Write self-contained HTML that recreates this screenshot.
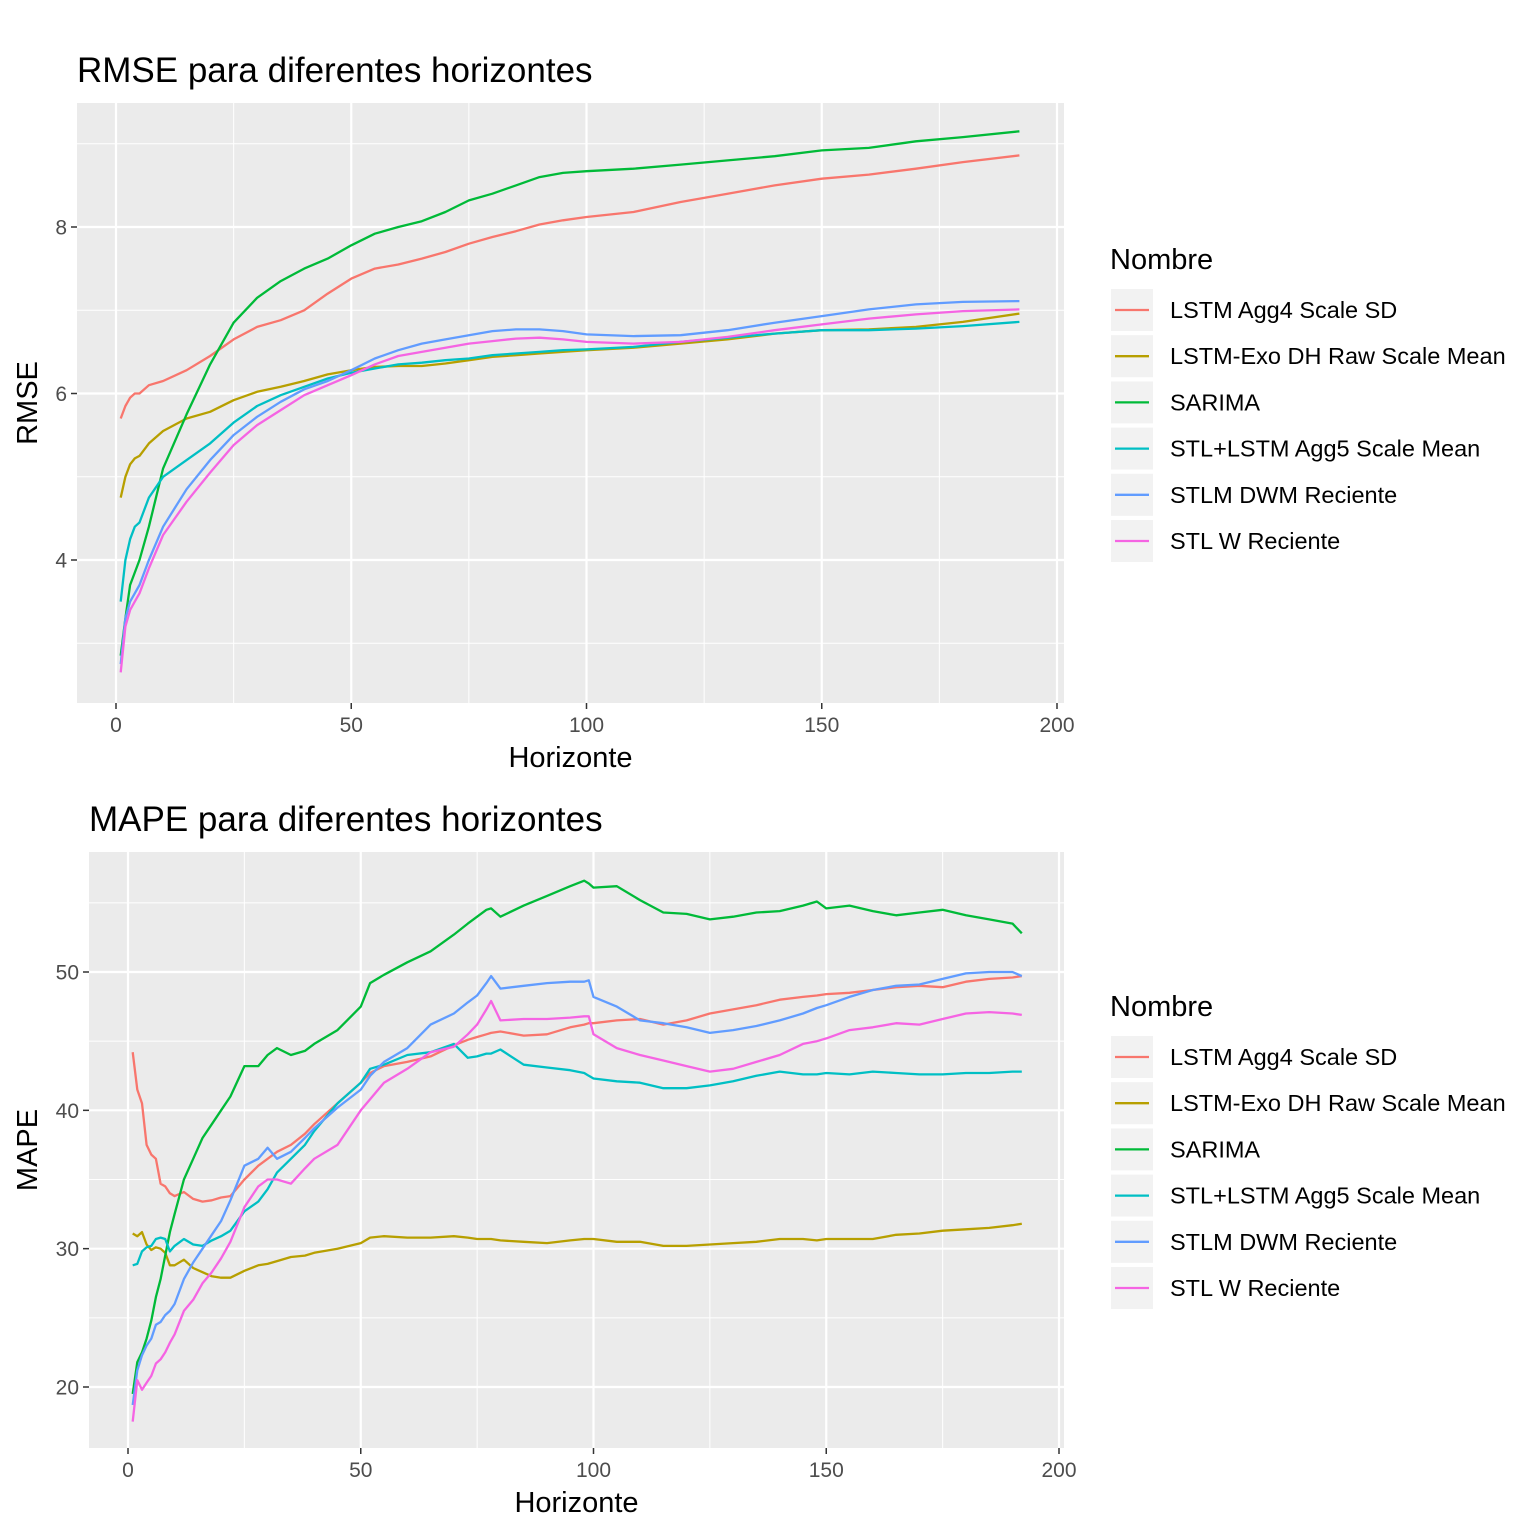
<!DOCTYPE html>
<html><head><meta charset="utf-8"><style>
html,body{margin:0;padding:0;background:#fff;}
svg{display:block;font-family:"Liberation Sans",sans-serif;}
</style></head><body>
<svg id="chart" width="1536" height="1536" viewBox="0 0 1536 1536"></svg>
<script>
const seriesNames=["LSTM Agg4 Scale SD","LSTM-Exo DH Raw Scale Mean","SARIMA","STL+LSTM Agg5 Scale Mean","STLM DWM Reciente","STL W Reciente"];
const colors=["#F8766D","#B79F00","#00BA38","#00BFC4","#619CFF","#F564E3"];
const rmseH=[1,2,3,4,5,7,10,15,20,25,30,35,40,45,50,55,60,65,70,75,80,85,90,95,100,110,120,130,140,150,160,170,180,192];
const rmseAgg4=[5.70,5.85,5.95,6.0,6.0,6.1,6.15,6.28,6.45,6.65,6.8,6.88,7.0,7.2,7.38,7.5,7.55,7.62,7.7,7.8,7.88,7.95,8.03,8.08,8.12,8.18,8.3,8.4,8.5,8.58,8.63,8.7,8.78,8.86];
const rmseExo=[4.75,5.0,5.15,5.22,5.25,5.4,5.55,5.7,5.78,5.92,6.02,6.08,6.15,6.23,6.28,6.32,6.33,6.33,6.36,6.4,6.44,6.46,6.48,6.5,6.52,6.55,6.6,6.65,6.72,6.76,6.77,6.8,6.86,6.96];
const rmseSarima=[2.85,3.3,3.7,3.85,4.0,4.4,5.1,5.75,6.35,6.85,7.15,7.35,7.5,7.62,7.78,7.92,8.0,8.07,8.18,8.32,8.4,8.5,8.6,8.65,8.67,8.7,8.75,8.8,8.85,8.92,8.95,9.03,9.08,9.15];
const rmseStlLstm=[3.5,4.0,4.25,4.4,4.45,4.75,5.0,5.2,5.4,5.65,5.85,5.98,6.08,6.18,6.25,6.3,6.35,6.37,6.4,6.42,6.46,6.48,6.5,6.52,6.53,6.56,6.62,6.67,6.72,6.76,6.76,6.78,6.81,6.86];
const rmseStlm=[2.75,3.3,3.5,3.6,3.7,4.0,4.4,4.85,5.2,5.5,5.72,5.9,6.05,6.15,6.28,6.42,6.52,6.6,6.65,6.7,6.75,6.77,6.77,6.75,6.71,6.69,6.7,6.76,6.85,6.93,7.01,7.07,7.1,7.11];
const rmseStlW=[2.65,3.2,3.4,3.5,3.6,3.9,4.3,4.7,5.05,5.38,5.62,5.8,5.98,6.1,6.22,6.35,6.45,6.5,6.55,6.6,6.63,6.66,6.67,6.65,6.62,6.6,6.62,6.68,6.76,6.83,6.9,6.95,6.99,7.01];
const mapeH=[1,2,3,4,5,6,7,8,9,10,12,14,16,18,20,22,25,28,30,32,35,38,40,45,50,52,55,60,65,70,73,75,77,78,80,85,90,95,98,99,100,105,110,115,120,125,130,135,140,145,148,150,155,160,165,170,175,180,185,190,192];
const mapeAgg4=[44.2,41.5,40.5,37.5,36.8,36.5,34.7,34.5,34,33.8,34.1,33.6,33.4,33.5,33.7,33.8,35,36,36.5,37,37.5,38.3,39,40.5,42,42.7,43.2,43.5,43.9,44.7,45.1,45.3,45.5,45.6,45.7,45.4,45.5,46,46.2,46.3,46.3,46.5,46.6,46.2,46.5,47,47.3,47.6,48,48.2,48.3,48.4,48.5,48.7,48.9,49,48.9,49.3,49.5,49.6,49.7];
const mapeExo=[31.1,30.9,31.2,30.3,29.9,30.1,30,29.7,28.8,28.8,29.2,28.6,28.3,28,27.9,27.9,28.4,28.8,28.9,29.1,29.4,29.5,29.7,30,30.4,30.8,30.9,30.8,30.8,30.9,30.8,30.7,30.7,30.7,30.6,30.5,30.4,30.6,30.7,30.7,30.7,30.5,30.5,30.2,30.2,30.3,30.4,30.5,30.7,30.7,30.6,30.7,30.7,30.7,31,31.1,31.3,31.4,31.5,31.7,31.8];
const mapeSarima=[19.5,21.8,22.5,23.5,24.8,26.5,27.8,29.5,31.2,32.5,35,36.5,38,39,40,41,43.2,43.2,44,44.5,44,44.3,44.8,45.8,47.5,49.2,49.8,50.7,51.5,52.7,53.5,54,54.5,54.6,54,54.8,55.5,56.2,56.6,56.4,56.1,56.2,55.2,54.3,54.2,53.8,54,54.3,54.4,54.8,55.1,54.6,54.8,54.4,54.1,54.3,54.5,54.1,53.8,53.5,52.8];
const mapeStlLstm=[28.8,28.9,29.8,30.1,30.2,30.7,30.8,30.7,29.8,30.2,30.7,30.3,30.2,30.6,30.9,31.3,32.7,33.4,34.3,35.5,36.5,37.5,38.5,40.5,42,43,43.3,44,44.2,44.8,43.8,43.9,44.1,44.1,44.4,43.3,43.1,42.9,42.7,42.5,42.3,42.1,42,41.6,41.6,41.8,42.1,42.5,42.8,42.6,42.6,42.7,42.6,42.8,42.7,42.6,42.6,42.7,42.7,42.8,42.8];
const mapeStlm=[18.7,21.2,22.3,23,23.5,24.5,24.7,25.2,25.5,26,27.8,29,30,31,32,33.5,36,36.5,37.3,36.5,37,38,38.7,40.2,41.5,42.5,43.5,44.5,46.2,47,47.8,48.3,49.2,49.7,48.8,49,49.2,49.3,49.3,49.4,48.2,47.5,46.5,46.3,46,45.6,45.8,46.1,46.5,47,47.4,47.6,48.2,48.7,49,49.1,49.5,49.9,50,50,49.7];
const mapeStlW=[17.5,20.5,19.8,20.3,20.8,21.7,22,22.5,23.2,23.8,25.5,26.3,27.5,28.3,29.3,30.5,33,34.5,35,35,34.7,35.8,36.5,37.5,40,40.8,42,43,44.2,44.6,45.5,46.2,47.3,47.9,46.5,46.6,46.6,46.7,46.8,46.8,45.5,44.5,44,43.6,43.2,42.8,43,43.5,44,44.8,45,45.2,45.8,46,46.3,46.2,46.6,47,47.1,47,46.9];
const xTicks=[0,50,100,150,200];
const rmseTicks=[4,6,8];
const mapeTicks=[20,30,40,50];

const svg=document.getElementById('chart');
const NS="http://www.w3.org/2000/svg";
function mk(tag,attrs,parent){const e=document.createElementNS(NS,tag);for(const k in attrs)e.setAttribute(k,attrs[k]);(parent||svg).appendChild(e);return e;}

function panel(cfg){
  const g=mk('g',{});
  
  
  const X=v=>cfg.x0px+(v-0)*(cfg.x200px-cfg.x0px)/200;
  const Y=v=>cfg.yApx+(v-cfg.yA)*(cfg.yBpx-cfg.yApx)/(cfg.yB-cfg.yA);
  const bg=mk('rect',{x:cfg.L,y:cfg.T,width:cfg.R-cfg.L,height:cfg.B-cfg.T,fill:'#EBEBEB'},g);
  
  
  for(let i=0;i<xTicks.length-1;i++){const v=(xTicks[i]+xTicks[i+1])/2;mk('line',{x1:X(v),x2:X(v),y1:cfg.T,y2:cfg.B,stroke:'#fff','stroke-width':1},g);}
  const ys=cfg.ticks;const st=ys[1]-ys[0];
  for(let v=ys[0]-st/2;v<=ys[ys.length-1]+st;v+=st){const p=Y(v);if(p>cfg.T&&p<cfg.B)mk('line',{x1:cfg.L,x2:cfg.R,y1:p,y2:p,stroke:'#fff','stroke-width':1},g);}
  xTicks.forEach(v=>{mk('line',{x1:X(v),x2:X(v),y1:cfg.T,y2:cfg.B,stroke:'#fff','stroke-width':2.2},g);
    mk('line',{x1:X(v),x2:X(v),y1:cfg.B,y2:cfg.B+6,stroke:'#333','stroke-width':1.5},g);
    const t=mk('text',{x:X(v),y:cfg.B+29,'text-anchor':'middle','font-size':21,fill:'#4D4D4D'},g);t.textContent=v;
    });
  ys.forEach(v=>{mk('line',{x1:cfg.L,x2:cfg.R,y1:Y(v),y2:Y(v),stroke:'#fff','stroke-width':2.2},g);
    mk('line',{x1:cfg.L-6,x2:cfg.L,y1:Y(v),y2:Y(v),stroke:'#333','stroke-width':1.5},g);
    const t=mk('text',{x:cfg.L-10,y:Y(v)+7.5,'text-anchor':'end','font-size':21,fill:'#4D4D4D'},g);t.textContent=v;
    });
  cfg.series.forEach((s,i)=>{
    const d=cfg.h.map((h,j)=>(j?'L':'M')+X(h).toFixed(1)+','+Y(s[j]).toFixed(1)).join('');
    const p=mk('path',{d:d,fill:'none',stroke:colors[i],'stroke-width':2.3,'stroke-linejoin':'round'},g);
    
    
  });
  const tt=mk('text',{x:cfg.L,y:cfg.T-21,'font-size':35,fill:'#000'},g);tt.textContent=cfg.title;
  
  const xt=mk('text',{x:(cfg.L+cfg.R)/2,y:cfg.B+64,'text-anchor':'middle','font-size':29,fill:'#000'},g);xt.textContent='Horizonte';
  
  const yc=(cfg.T+cfg.B)/2;
  const yt=mk('text',{x:37,y:yc,'text-anchor':'middle','font-size':29,fill:'#000',transform:`rotate(-90 37 ${yc})`},g);yt.textContent=cfg.ylab;
  
  const lg=mk('g',{},g);
  
  const lt=mk('text',{x:1110,y:cfg.legY,'font-size':29,fill:'#000'},lg);lt.textContent='Nombre';
  
  seriesNames.forEach((n,i)=>{
    const ky=cfg.legY+20+i*46.2;
    const e=mk('g',{},lg);
    
    mk('rect',{x:1111,y:ky,width:42,height:42,fill:'#F2F2F2'},e);
    mk('line',{x1:1115,x2:1149,y1:ky+21,y2:ky+21,stroke:colors[i],'stroke-width':2.3},e);
    const t=mk('text',{x:1170,y:ky+29,'font-size':23.5,fill:'#000'},e);t.textContent=n;
  });
}
panel({name:'rmse-panel',title:'RMSE para diferentes horizontes',ylab:'RMSE',L:77,R:1064,T:103,B:703,x0px:116,x200px:1057,yA:4,yApx:560,yB:8,yBpx:227,ticks:rmseTicks,h:rmseH,series:[rmseAgg4,rmseExo,rmseSarima,rmseStlLstm,rmseStlm,rmseStlW],legY:269});
panel({name:'mape-panel',title:'MAPE para diferentes horizontes',ylab:'MAPE',L:89,R:1064,T:852,B:1448,x0px:128,x200px:1059,yA:20,yApx:1387,yB:50,yBpx:972,ticks:mapeTicks,h:mapeH,series:[mapeAgg4,mapeExo,mapeSarima,mapeStlLstm,mapeStlm,mapeStlW],legY:1016});
</script>
</body></html>
